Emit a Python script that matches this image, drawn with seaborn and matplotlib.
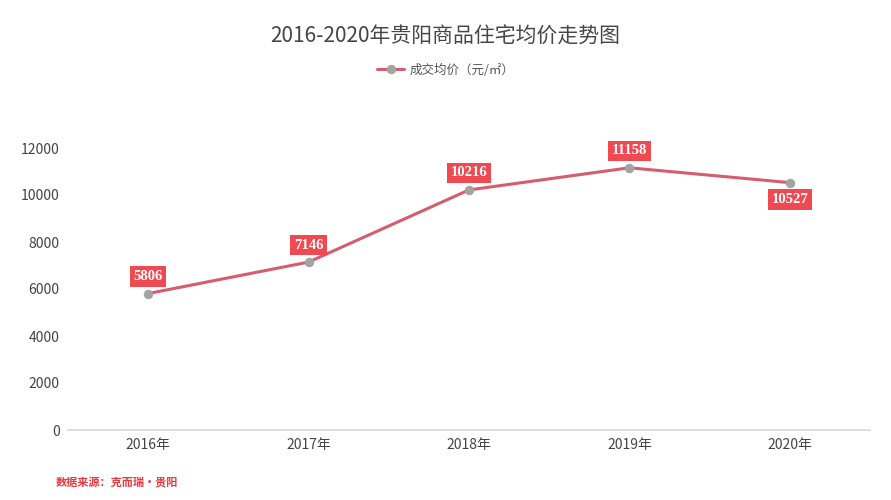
import pandas as pd
import matplotlib.pyplot as plt
import seaborn as sns

# chart data
years = ['2016年', '2017年', '2018年', '2019年', '2020年']
prices = [5806, 7146, 10216, 11158, 10527]
label_below = [False, False, False, False, True]

df = pd.DataFrame({'year': years, 'price': prices})
df['pos'] = range(len(df))

sns.set_style('white')
plt.rcParams['font.family'] = ['Noto Sans CJK SC', 'DejaVu Sans']

fig = plt.figure(figsize=(8.91, 5), dpi=100)
ax = fig.add_axes([0.0763, 0.14, 0.9001, 0.564])

line_color = '#d45d6f'
sns.lineplot(data=df, x='pos', y='price', ax=ax, color=line_color, linewidth=2.2,
             marker='o', markersize=6, markerfacecolor='#a3a3a3',
             markeredgecolor='#a3a3a3', label='成交均价（元/㎡）', legend=False)

# value labels
for x, y, below in zip(df['pos'], df['price'], label_below):
    off = -17 if below else 17
    ax.annotate(f'{y}', (x, y), xytext=(0, off), textcoords='offset pixels',
                ha='center', va='center', color='white', fontsize=10.5, fontweight='bold',
                family='Liberation Serif',
                bbox=dict(boxstyle='square,pad=0.25', fc='#ef4a51', ec='none'))

ax.set_xlim(-0.5, 4.5)
ax.set_ylim(0, 12000)
ax.set_xticks(df['pos'])
ax.set_xticklabels(years)
ax.set_yticks(range(0, 12001, 2000))
ax.set_xlabel('')
ax.set_ylabel('')
ax.tick_params(axis='both', length=0, labelsize=10, colors='#444444')
ax.tick_params(axis='x', pad=6)
ax.tick_params(axis='y', pad=6)
for s in ['top', 'right', 'left']:
    ax.spines[s].set_visible(False)
ax.spines['bottom'].set_color('#d9d9d9')
ax.spines['bottom'].set_linewidth(1.2)

fig.text(0.5, 0.926, '2016-2020年贵阳商品住宅均价走势图', ha='center', va='center',
         fontsize=15, color='#464646')

# legend
handles, labels = ax.get_legend_handles_labels()
fig.legend(handles, labels, loc='center', bbox_to_anchor=(0.5, 0.86), frameon=False,
           fontsize=9, labelcolor='#555555', handlelength=2.2, handletextpad=0.4)

fig.text(0.062, 0.034, '数据来源：克而瑞·贵阳', ha='left', va='center', fontsize=8,
         color='#e8383d', fontweight='bold')

fig.savefig('out.png', dpi=100)
